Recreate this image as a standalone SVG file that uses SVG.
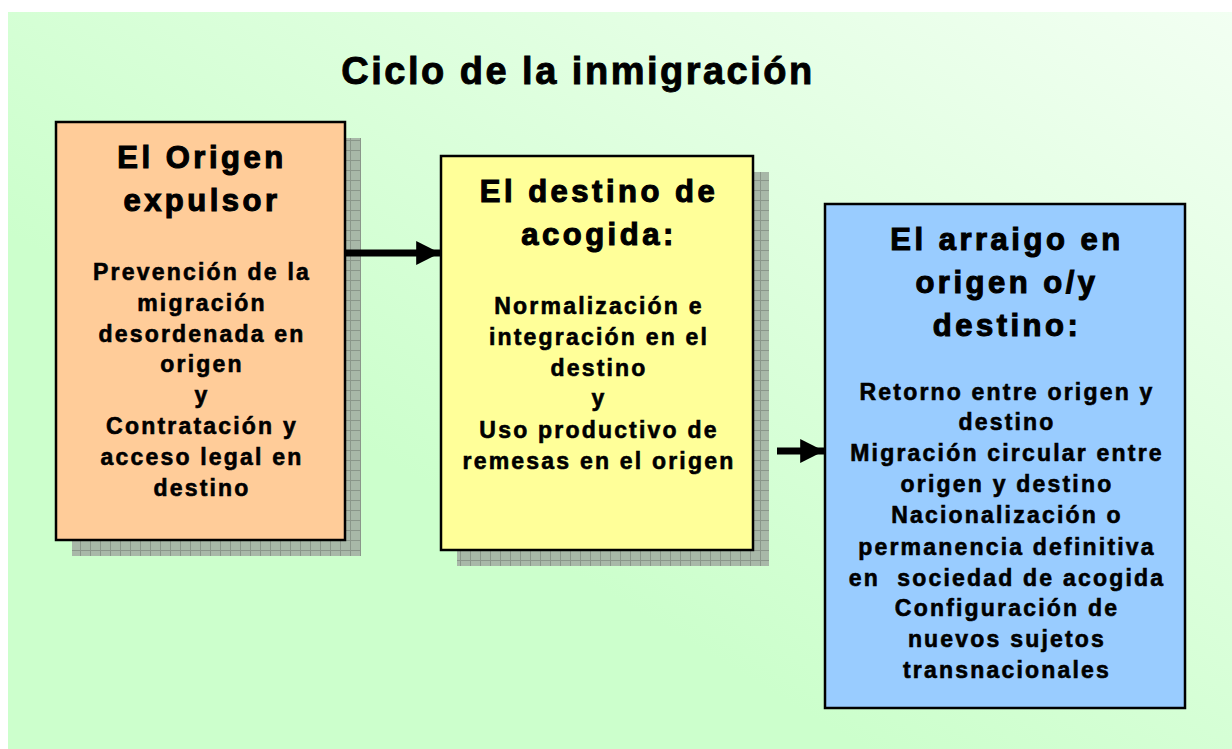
<svg xmlns="http://www.w3.org/2000/svg" width="1232" height="749" viewBox="0 0 1232 749">
<defs>
<linearGradient id="bg" x1="0" y1="1" x2="1" y2="0">
<stop offset="0" stop-color="#ccffcc"/>
<stop offset="0.35" stop-color="#ccffcc"/>
<stop offset="1" stop-color="#f2fff2"/>
</linearGradient>
<pattern id="grid" width="10" height="10" patternUnits="userSpaceOnUse">
<rect width="10" height="10" fill="#a8b8a8"/>
<path d="M0 0.5H10M0.5 0V10" stroke="#8a968a" stroke-width="1"/>
</pattern>
<marker id="ah" viewBox="0 0 10 10" refX="10" refY="5" markerWidth="3.4" markerHeight="3.4" markerUnits="strokeWidth" orient="auto">
<path d="M0 0L10 5L0 10Z" fill="#000"/>
</marker>
<style>
.box{stroke:#000;stroke-width:2.5}
.shadow{fill:url(#grid)}
.h{font-family:"Liberation Sans",Arial,sans-serif;font-weight:bold;font-size:31px;letter-spacing:3.5px;text-anchor:middle;fill:#000;stroke:#000;stroke-width:1.1px}
.b{font-family:"Liberation Sans",Arial,sans-serif;font-weight:bold;font-size:23px;letter-spacing:2.2px;text-anchor:middle;fill:#000;stroke:#000;stroke-width:0.6px}
.t{font-family:"Liberation Sans",Arial,sans-serif;font-weight:bold;font-size:38px;letter-spacing:2.5px;text-anchor:middle;fill:#000;stroke:#000;stroke-width:0.9px}
.arr{stroke:#000;stroke-width:7;fill:none}
</style>
</defs>
<rect x="8" y="12" width="1224" height="737" fill="url(#bg)"/>
<text class="t" x="578" y="84">Ciclo de la inmigración</text>

<g id="origen">
<rect class="shadow" x="72" y="138" width="289" height="418"/>
<rect class="box" x="56" y="122" width="289" height="418" fill="#ffcc99"/>
<text class="h" x="202" y="168">El Origen</text>
<text class="h" x="202" y="211">expulsor</text>
<text class="b" x="202" y="280">Prevención de la</text>
<text class="b" x="202" y="311">migración</text>
<text class="b" x="202" y="342">desordenada en</text>
<text class="b" x="202" y="372">origen</text>
<text class="b" x="202" y="403">y</text>
<text class="b" x="202" y="434">Contratación y</text>
<text class="b" x="202" y="465">acceso legal en</text>
<text class="b" x="202" y="496">destino</text>
</g>

<g id="destino">
<rect class="shadow" x="457" y="172" width="312" height="394"/>
<rect class="box" x="441" y="156" width="312" height="394" fill="#ffff99"/>
<text class="h" x="599" y="202">El destino de</text>
<text class="h" x="599" y="245">acogida:</text>
<text class="b" x="599" y="314">Normalización e</text>
<text class="b" x="599" y="345">integración en el</text>
<text class="b" x="599" y="376">destino</text>
<text class="b" x="599" y="406">y</text>
<text class="b" x="599" y="438">Uso productivo de</text>
<text class="b" x="599" y="469">remesas en el origen</text>
</g>

<g id="arraigo">
<rect class="box" x="825" y="204" width="360" height="504" fill="#99ccff"/>
<text class="h" x="1007" y="250">El arraigo en</text>
<text class="h" x="1007" y="293">origen o/y</text>
<text class="h" x="1007" y="336">destino:</text>
<text class="b" x="1007" y="400">Retorno entre origen y</text>
<text class="b" x="1007" y="430">destino</text>
<text class="b" x="1007" y="461">Migración circular entre</text>
<text class="b" x="1007" y="492">origen y destino</text>
<text class="b" x="1007" y="523">Nacionalización o</text>
<text class="b" x="1007" y="555">permanencia definitiva</text>
<text class="b" x="1007" y="586" xml:space="preserve">en  sociedad de acogida</text>
<text class="b" x="1007" y="616">Configuración de</text>
<text class="b" x="1007" y="647">nuevos sujetos</text>
<text class="b" x="1007" y="678">transnacionales</text>
</g>

<g id="connectors">
<line class="arr" x1="345" y1="253" x2="440" y2="253" marker-end="url(#ah)"/>
<line class="arr" x1="777" y1="451" x2="824" y2="451" marker-end="url(#ah)"/>
</g>
</svg>
